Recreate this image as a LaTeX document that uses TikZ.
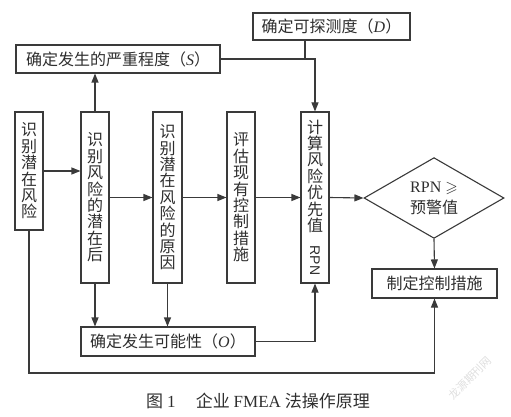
\documentclass[tikz,border=0pt]{standalone}
\usepackage{fontspec}
\usepackage{amssymb}
\usepackage{graphicx}
\setmainfont{Liberation Serif}
\newfontfamily\cjk{Noto Sans CJK SC}
\usetikzlibrary{arrows.meta,shapes.geometric}
\definecolor{ln}{HTML}{3A3A3A}
\definecolor{tx}{HTML}{2E2E2E}
\begin{document}
\begin{tikzpicture}[x=1pt,y=-1pt,
  box/.style={draw=ln,line width=1.1pt,fill=white,inner sep=0pt,text=tx,
    font={\cjk\fontsize{16}{16.4}\selectfont}},
  vbox/.style={box,minimum width=28pt,align=center},
  hbox/.style={box,minimum height=28pt},
  arr/.style={draw=ln,line width=1.1pt,-{Triangle[length=9pt,width=7pt]}},
  ln/.style={draw=ln,line width=1.1pt}]
\useasboundingbox (0,0) rectangle (511,417);
\node[hbox,minimum width=204pt] (S) at (118,59) {确定发生的严重程度（\textit{\fontspec{Liberation Serif}S}）};
\node[hbox,minimum width=157pt,minimum height=27pt] (D) at (331.5,26.5) {确定可探测度（\textit{\fontspec{Liberation Serif}D}）};
\node[vbox,minimum height=118pt] (b1) at (29,171) {识\\别\\潜\\在\\风\\险};
\node[vbox,minimum height=171pt] (b2) at (95,197.5) {识\\别\\风\\险\\的\\潜\\在\\后};
\node[vbox,minimum height=171pt,minimum width=29pt] (b3) at (167.5,197.5) {识\\别\\潜\\在\\风\\险\\的\\原\\因};
\node[vbox,minimum height=171pt] (b4) at (241,197.5) {评\\估\\现\\有\\控\\制\\措\\施};
\node[vbox,minimum height=171pt] (b5) at (315,197.5) {计\\算\\风\\险\\优\\先\\值\\[-2pt]\rotatebox{-90}{\fontspec{Liberation Sans}\fontsize{14}{14}\selectfont RPN}};
\node[diamond,draw=ln,line width=1.1pt,fill=white,minimum width=140pt,minimum height=66pt,inner sep=0pt,text=tx,align=center,
  font={\cjk\fontsize{16}{21}\selectfont}] (dia) at (434,198) {{\fontspec{Liberation Serif}RPN $\geqslant$}\\预警值};
\node[hbox,minimum width=125pt,minimum height=29pt] (C) at (434.5,283.5) {制定控制措施};
\node[hbox,minimum width=174pt,minimum height=29pt] (O) at (168,341.5) {确定发生可能性（\textit{\fontspec{Liberation Serif}O}）};
\coordinate (jD) at (305,59);
\coordinate (bot) at (29,373);
% connectors
\draw[arr] (b1.east) -- (b1.east -| b2.west);
\draw[arr] (b2.east) -- (b3.west);
\draw[arr] (b3.east) -- (b4.west);
\draw[arr] (b4.east) -- (b5.west);
\draw[arr] (b5.east) -- (dia.west);
\draw[arr] (b2.north) -- (b2.north |- S.south);
\draw[arr] (S.east) -| (b5.north);
\draw[ln] (jD |- D.south) -- (jD);
\draw[arr] (b2.south) -- (b2.south |- O.north);
\draw[arr] (b3.south) -- (b3.south |- O.north);
\draw[arr] (O.east) -| (b5.south);
\draw[arr] (dia.south) -- (C.north);
\draw[arr] (b1.south) -- (bot) -| (C.south);
% caption
\node[text=tx,font={\cjk\fontsize{17}{20}\selectfont}] (cap) at (258,401) {图 {\fontspec{Liberation Serif}1}\hspace{1.2em}企业 {\fontspec{Liberation Serif}FMEA} 法操作原理};
\node[text=black!13,rotate=45,font={\cjk\fontsize{11}{11}\selectfont}] (wm) at (470,378) {龙源期刊网};
\end{tikzpicture}
\end{document}
